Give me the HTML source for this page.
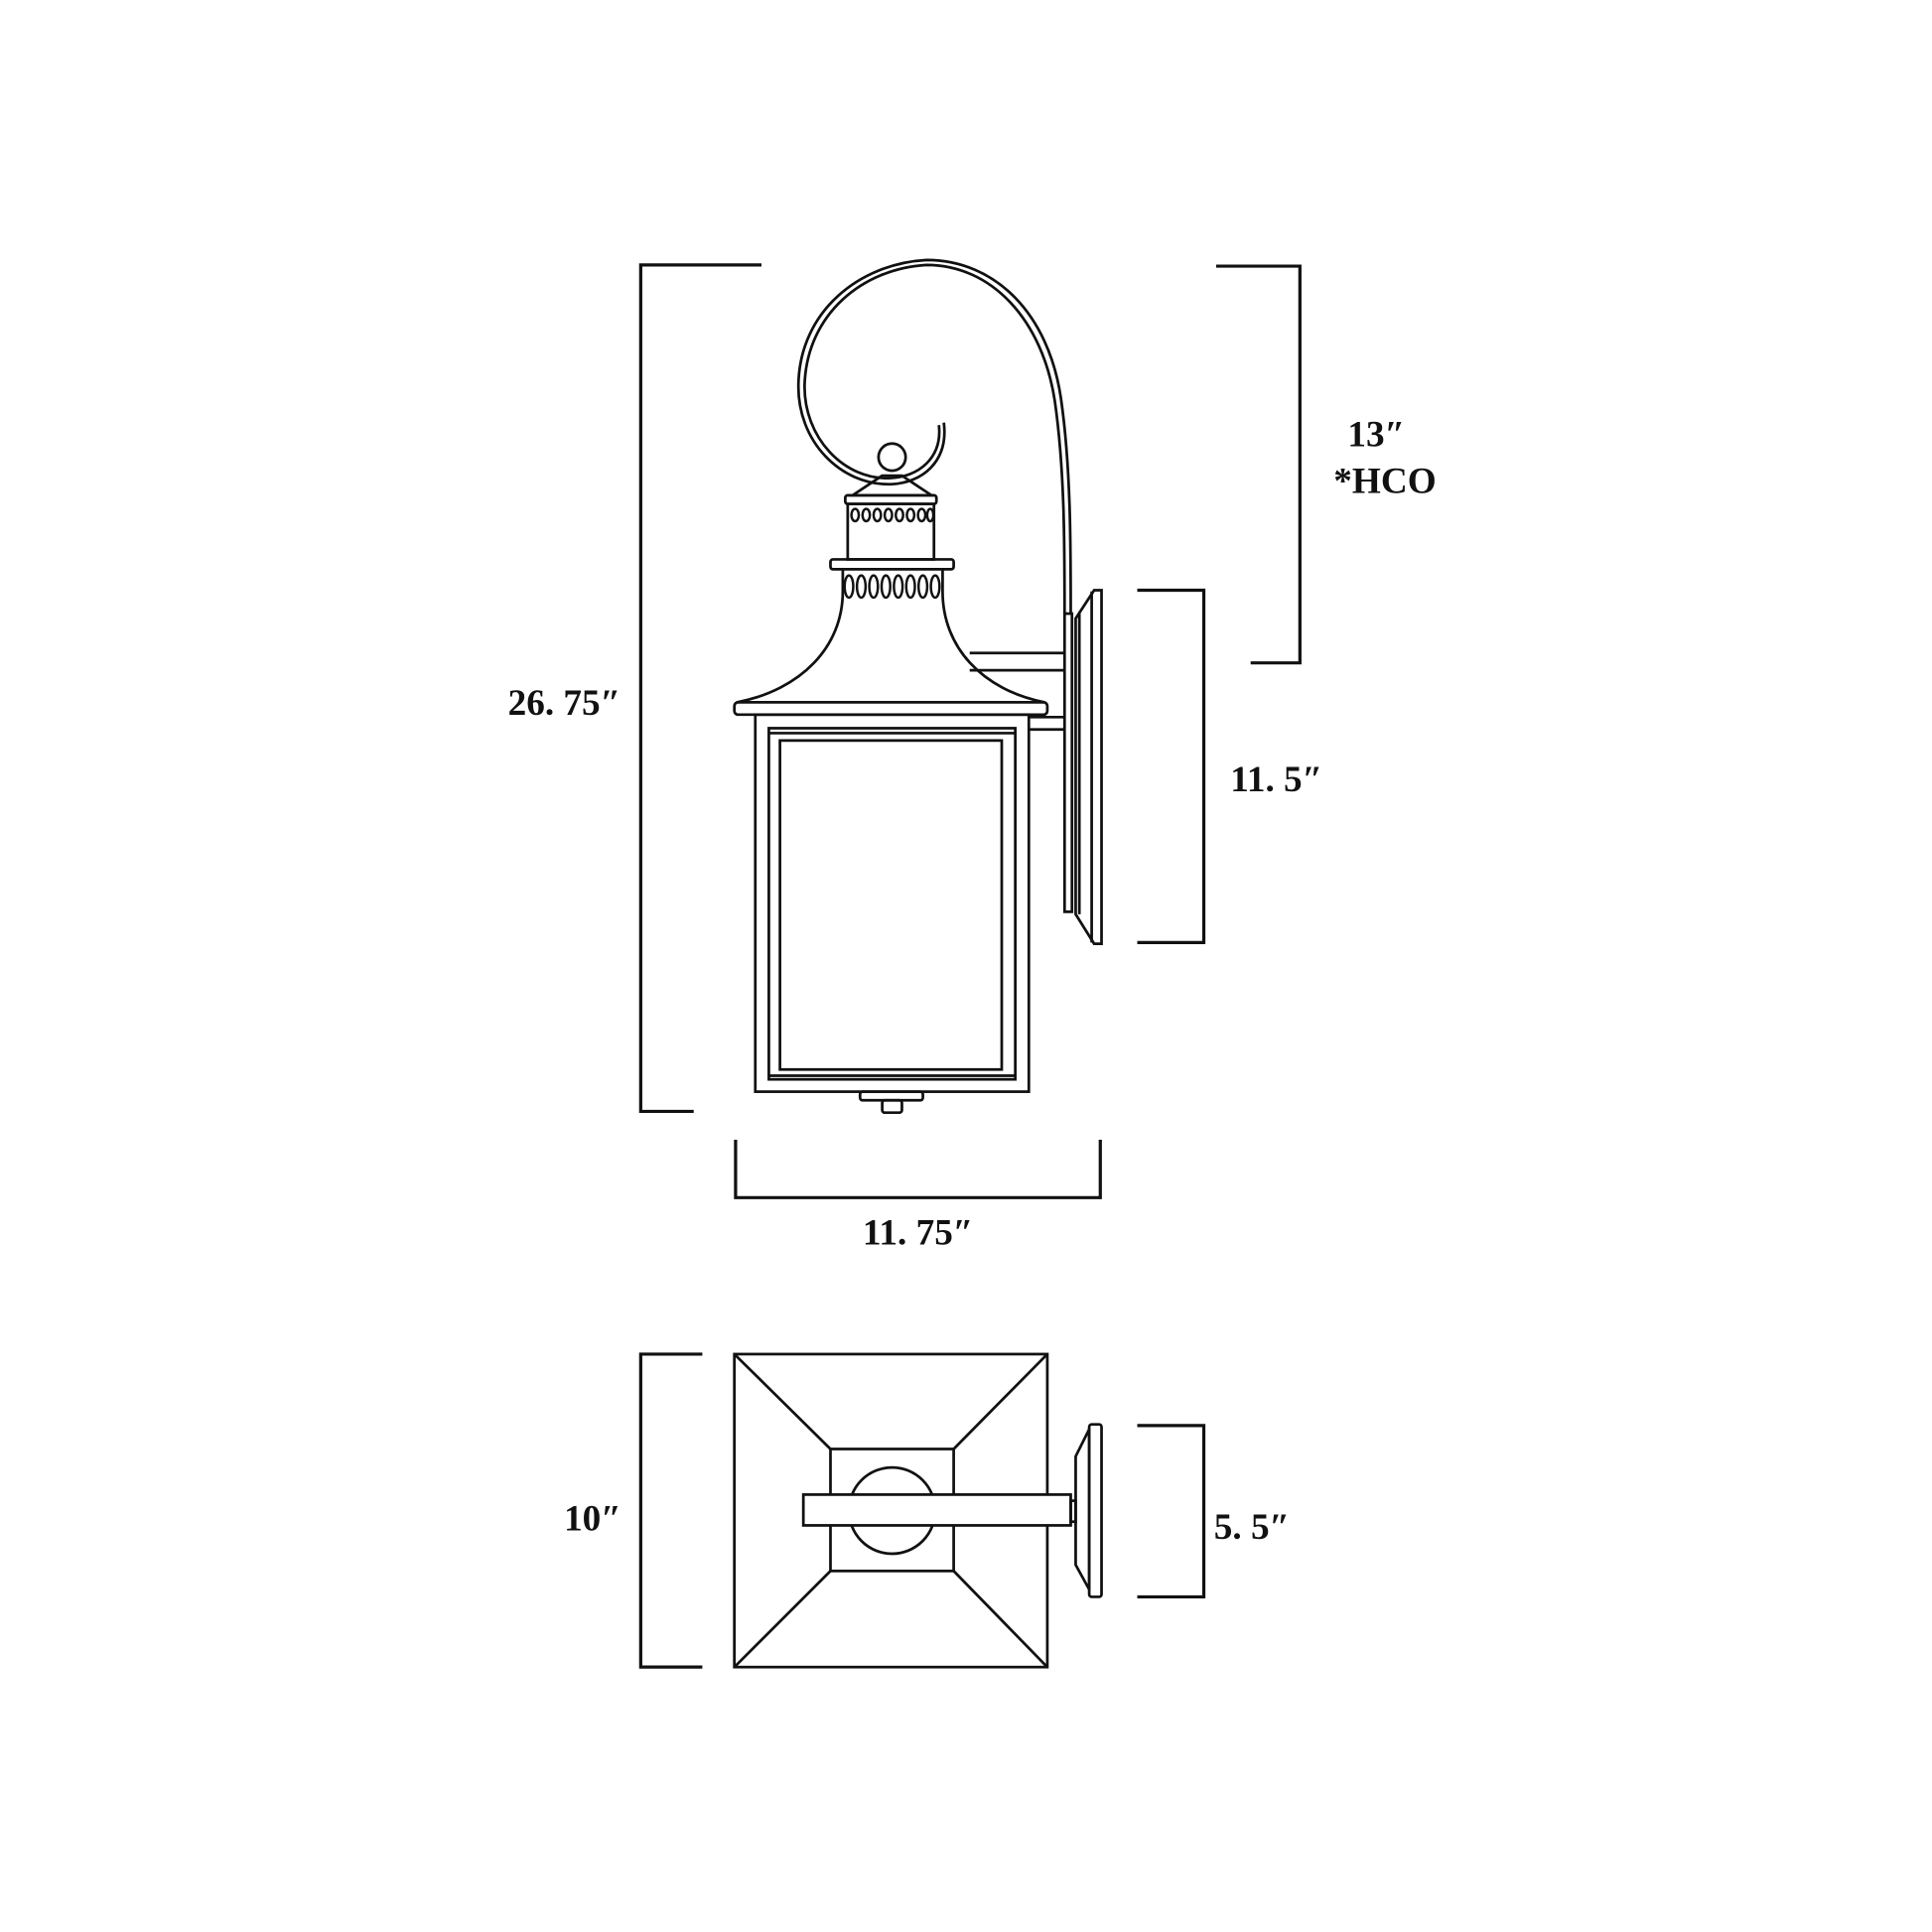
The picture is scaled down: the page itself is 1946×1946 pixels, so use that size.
<!DOCTYPE html>
<html><head><meta charset="utf-8"><style>html,body{margin:0;padding:0;background:#fff}svg{display:block}</style></head>
<body>
<svg width="1946" height="1946" viewBox="0 0 1568 1568" xmlns="http://www.w3.org/2000/svg">
<rect width="1568" height="1568" fill="#fff"/>
<g fill="none" stroke="#111" stroke-width="2.6">
<path d="M618 215H520V902H563"/>
<path d="M987 216H1055V538H1015"/>
<path d="M923 479H977V765H923"/>
<path d="M597 925V972H893V925"/>
<path d="M570 1099H520V1353H570"/>
<path d="M923 1157H977V1296H923"/>
</g>
<g fill="none" stroke="#111" stroke-width="2.2">
<path d="M864 498 C864 440 864 380 856 325 C846 260 805 215 752 215 C700 218 655 255 653 312 C652 355 685 390 723 388 C745 387 765 372 762 345"/>
<path d="M869 498 C869 440 869 378 861 323 C851 255 808 211 752 211 C697 214 649 253 648 312 C647 358 682 394 723 393 C748 392 770 375 766 343"/>
<circle cx="724" cy="371" r="11" fill="#fff"/>
<path d="M716 386 L692 402 H756 L732 386Z"/>
<rect x="686" y="402" width="74" height="7" rx="2"/>
<rect x="688" y="409" width="70" height="45"/>
<rect x="674" y="454" width="100" height="8" rx="2"/>
<path d="M684 462 V480 C684 525 650 560 598 570 M765 462 V480 C765 525 797 560 848 570"/>
<rect x="596" y="570" width="254" height="10" rx="3"/>
<rect x="613" y="580" width="222" height="306"/>
<rect x="624" y="591" width="200" height="285"/>
<rect x="633" y="601" width="180" height="267"/>
<path d="M624 595H824M624 873H824"/>
<rect x="698" y="886" width="51" height="7" rx="2"/>
<rect x="716" y="893" width="16" height="10" rx="2"/>
<path d="M787 530H864M787 544H864M835 582H864M835 592H864"/>
<rect x="864" y="498" width="6" height="242"/>
<line x1="876" y1="498" x2="876" y2="742"/>
<path d="M873 502 L888 479 H894 V766 H888 L873 742Z"/>
<line x1="886" y1="480" x2="886" y2="765"/>
<rect x="596" y="1099" width="254" height="254"/>
<rect x="674" y="1176" width="100" height="99"/>
<path d="M596 1099L674 1176M850 1099L774 1176M596 1353L674 1275M850 1353L774 1275"/>
<circle cx="724" cy="1226" r="35"/>
<rect x="652" y="1213" width="217" height="25" fill="#fff"/>
<rect x="869" y="1218" width="4" height="17"/>
<path d="M873 1182 L884 1160 V1290 L873 1270Z"/>
<rect x="884" y="1156" width="10" height="140" rx="2"/>
</g>
<g fill="#fff" stroke="#111" stroke-width="2">
<ellipse cx="694" cy="418" rx="3" ry="5"/><ellipse cx="703" cy="418" rx="3" ry="5"/><ellipse cx="712" cy="418" rx="3" ry="5"/><ellipse cx="721" cy="418" rx="3" ry="5"/><ellipse cx="730" cy="418" rx="3" ry="5"/><ellipse cx="739" cy="418" rx="3" ry="5"/><ellipse cx="748" cy="418" rx="3" ry="5"/><ellipse cx="755" cy="418" rx="2.5" ry="5"/>
<ellipse cx="689" cy="476" rx="3.5" ry="9"/><ellipse cx="699" cy="476" rx="3.5" ry="9"/><ellipse cx="709" cy="476" rx="3.5" ry="9"/><ellipse cx="719" cy="476" rx="3.5" ry="9"/><ellipse cx="729" cy="476" rx="3.5" ry="9"/><ellipse cx="739" cy="476" rx="3.5" ry="9"/><ellipse cx="749" cy="476" rx="3.5" ry="9"/><ellipse cx="759" cy="476" rx="3.5" ry="9"/>
</g>
<g fill="#111" font-family="'Liberation Serif','Noto Serif CJK SC',serif" font-weight="bold" font-size="30" text-anchor="middle">
<text x="458" y="580">26. 75″</text>
<text x="1117" y="362">13″</text>
<text x="1124" y="400">*HCO</text>
<text x="1036" y="642">11. 5″</text>
<text x="745" y="1010">11. 75″</text>
<text x="481" y="1242">10″</text>
<text x="1016" y="1249">5. 5″</text>
</g>
</svg>
</body></html>
